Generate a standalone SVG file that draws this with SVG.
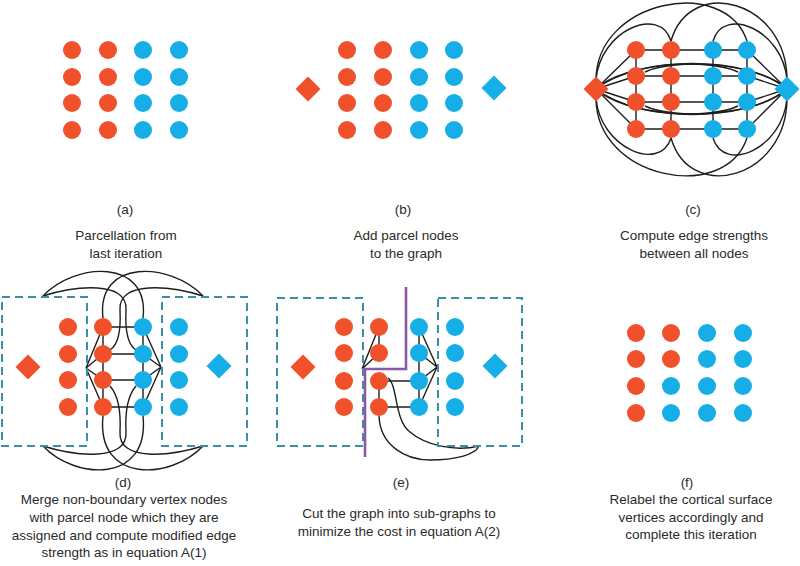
<svg xmlns="http://www.w3.org/2000/svg" xmlns:xlink="http://www.w3.org/1999/xlink" width="800" height="566" viewBox="0 0 800 566">
<style>
.o{fill:#f0502a}
.b{fill:#16aee6}
.e{fill:none;stroke:#1e1e1e;stroke-width:1.4}
.box{fill:none;stroke:#3a8ea8;stroke-width:2;stroke-dasharray:8 5}
.cut{fill:none;stroke:#8b5aa6;stroke-width:2.6}
text{font-family:"Liberation Sans",Arial,sans-serif;font-size:13.5px;fill:#2a2a2a;text-anchor:middle}
</style>
<defs>
<path id="dia" d="M0,-12.5 L12.5,0 L0,12.5 L-12.5,0Z"/>
</defs>
<rect width="800" height="566" fill="#fff"/>

<!-- connectors -->
<g id="connectors">
<g id="conn-c" class="e">
<path d="M636,50H747M636,76H747M636,102H747M636,129H747M636,50V129M671,50V129M713,50V129M747,50V129"/>
<path d="M596,89L636,50M596,89L636,76M596,89L636,102M596,89L636,129"/>
<path d="M787,89L747,50M787,89L747,76M787,89L747,102M787,89L747,129"/>
<path d="M596,80C600,30 660,5 671,41"/>
<path d="M596,80C596,0 725,-25 747,41"/>
<path d="M671,41C690,-25 787,0 787,80"/>
<path d="M713,41C724,5 783,30 787,80"/>
<path d="M596,89C640,55 745,55 787,89"/>
<path d="M596,89C625,62 710,58 738,72"/>
<path d="M787,89C758,62 673,58 645,72"/>
<path d="M596,89C640,123 745,123 787,89"/>
<path d="M596,89C625,116 710,120 738,106"/>
<path d="M787,89C758,116 673,120 645,106"/>
<path d="M596,98C600,148 660,173 671,138"/>
<path d="M596,98C596,179 725,204 747,138"/>
<path d="M671,138C690,204 787,179 787,98"/>
<path d="M713,138C724,174 783,149 787,98"/>
</g>
<g id="conn-d" class="e">
<path d="M103,327H143M103,354H143M103,380H143M103,407H143M103,327V407M143,327V407"/>
<path d="M86,368L103,327M86,368L103,354M86,368L103,380M86,368L103,407"/>
<path d="M161,367L143,327M161,367L143,354M161,367L143,380M161,367L143,407"/>
<path d="M43,296C75,262 150,258 143,318"/>
<path d="M43,296C75,286 128,280 126,310C125,330 128,345 136,350"/>
<path d="M203,296C171,262 96,258 103,318"/>
<path d="M203,296C171,286 118,280 120,310C121,330 118,345 110,350"/>
<path d="M43,446C75,480 150,484 143,416"/>
<path d="M43,446C75,456 128,462 126,432C125,412 128,395 136,386"/>
<path d="M203,446C171,480 96,484 103,416"/>
<path d="M203,446C171,456 118,462 120,432C121,412 118,395 110,386"/>
</g>
<g id="conn-e" class="e">
<path d="M379,327V353M379,381V407M419,327V407M379,381H419M379,407H419"/>
<path d="M362,369L379,327M362,369L379,353"/>
<path d="M437,367L419,327M437,367L419,353M437,367L419,381M437,367L419,407"/>
<path d="M388,378C398,385 394,420 410,432C425,445 455,452 479,446"/>
<path d="M379,416C380,445 405,460 430,460C455,460 475,455 479,446"/>
</g>
</g>

<!-- dashed merge boxes and cut -->
<g id="box-d-left"><rect class="box" x="2" y="297" width="85" height="149"/></g>
<g id="box-d-right"><rect class="box" x="162" y="297" width="85" height="149"/></g>
<g id="box-e-left"><rect class="box" x="277" y="298" width="86" height="148"/></g>
<g id="box-e-right"><rect class="box" x="438" y="298" width="84" height="148"/></g>
<g id="cut-e"><path class="cut" d="M406,287V369H365V457"/></g>

<!-- panel a -->
<g id="panel-a">
<g id="a11"><circle class="o" cx="72" cy="50" r="9"/></g><g id="a12"><circle class="o" cx="108" cy="50" r="9"/></g><g id="a13"><circle class="b" cx="143" cy="50" r="9"/></g><g id="a14"><circle class="b" cx="179" cy="50" r="9"/></g>
<g id="a21"><circle class="o" cx="72" cy="77" r="9"/></g><g id="a22"><circle class="o" cx="108" cy="77" r="9"/></g><g id="a23"><circle class="b" cx="143" cy="77" r="9"/></g><g id="a24"><circle class="b" cx="179" cy="77" r="9"/></g>
<g id="a31"><circle class="o" cx="72" cy="103" r="9"/></g><g id="a32"><circle class="o" cx="108" cy="103" r="9"/></g><g id="a33"><circle class="b" cx="143" cy="103" r="9"/></g><g id="a34"><circle class="b" cx="179" cy="103" r="9"/></g>
<g id="a41"><circle class="o" cx="72" cy="130" r="9"/></g><g id="a42"><circle class="o" cx="108" cy="130" r="9"/></g><g id="a43"><circle class="b" cx="143" cy="130" r="9"/></g><g id="a44"><circle class="b" cx="179" cy="130" r="9"/></g>
</g>

<!-- panel b -->
<g id="panel-b">
<g id="b11"><circle class="o" cx="347" cy="50" r="9"/></g><g id="b12"><circle class="o" cx="383" cy="50" r="9"/></g><g id="b13"><circle class="b" cx="419" cy="50" r="9"/></g><g id="b14"><circle class="b" cx="454" cy="50" r="9"/></g>
<g id="b21"><circle class="o" cx="347" cy="77" r="9"/></g><g id="b22"><circle class="o" cx="383" cy="77" r="9"/></g><g id="b23"><circle class="b" cx="419" cy="77" r="9"/></g><g id="b24"><circle class="b" cx="454" cy="77" r="9"/></g>
<g id="b31"><circle class="o" cx="347" cy="103" r="9"/></g><g id="b32"><circle class="o" cx="383" cy="103" r="9"/></g><g id="b33"><circle class="b" cx="419" cy="103" r="9"/></g><g id="b34"><circle class="b" cx="454" cy="103" r="9"/></g>
<g id="b41"><circle class="o" cx="347" cy="130" r="9"/></g><g id="b42"><circle class="o" cx="383" cy="130" r="9"/></g><g id="b43"><circle class="b" cx="419" cy="130" r="9"/></g><g id="b44"><circle class="b" cx="454" cy="130" r="9"/></g>
<g id="b-pl"><use href="#dia" xlink:href="#dia" class="o" x="308" y="89"/></g>
<g id="b-pr"><use href="#dia" xlink:href="#dia" class="b" x="494" y="88"/></g>
</g>

<!-- panel c -->
<g id="panel-c">
<g id="c11"><circle class="o" cx="636" cy="50" r="9"/></g><g id="c12"><circle class="o" cx="671" cy="50" r="9"/></g><g id="c13"><circle class="b" cx="713" cy="50" r="9"/></g><g id="c14"><circle class="b" cx="747" cy="50" r="9"/></g>
<g id="c21"><circle class="o" cx="636" cy="76" r="9"/></g><g id="c22"><circle class="o" cx="671" cy="76" r="9"/></g><g id="c23"><circle class="b" cx="713" cy="76" r="9"/></g><g id="c24"><circle class="b" cx="747" cy="76" r="9"/></g>
<g id="c31"><circle class="o" cx="636" cy="102" r="9"/></g><g id="c32"><circle class="o" cx="671" cy="102" r="9"/></g><g id="c33"><circle class="b" cx="713" cy="102" r="9"/></g><g id="c34"><circle class="b" cx="747" cy="102" r="9"/></g>
<g id="c41"><circle class="o" cx="636" cy="129" r="9"/></g><g id="c42"><circle class="o" cx="671" cy="129" r="9"/></g><g id="c43"><circle class="b" cx="713" cy="129" r="9"/></g><g id="c44"><circle class="b" cx="747" cy="129" r="9"/></g>
<g id="c-pl"><use href="#dia" xlink:href="#dia" class="o" x="596" y="89"/></g>
<g id="c-pr"><use href="#dia" xlink:href="#dia" class="b" x="787" y="89"/></g>
</g>

<!-- panel d -->
<g id="panel-d">
<g id="d11"><circle class="o" cx="68" cy="327" r="9"/></g><g id="d12"><circle class="o" cx="103" cy="327" r="9"/></g><g id="d13"><circle class="b" cx="143" cy="327" r="9"/></g><g id="d14"><circle class="b" cx="179" cy="327" r="9"/></g>
<g id="d21"><circle class="o" cx="68" cy="354" r="9"/></g><g id="d22"><circle class="o" cx="103" cy="354" r="9"/></g><g id="d23"><circle class="b" cx="143" cy="354" r="9"/></g><g id="d24"><circle class="b" cx="179" cy="354" r="9"/></g>
<g id="d31"><circle class="o" cx="68" cy="380" r="9"/></g><g id="d32"><circle class="o" cx="103" cy="380" r="9"/></g><g id="d33"><circle class="b" cx="143" cy="380" r="9"/></g><g id="d34"><circle class="b" cx="179" cy="380" r="9"/></g>
<g id="d41"><circle class="o" cx="68" cy="407" r="9"/></g><g id="d42"><circle class="o" cx="103" cy="407" r="9"/></g><g id="d43"><circle class="b" cx="143" cy="407" r="9"/></g><g id="d44"><circle class="b" cx="179" cy="407" r="9"/></g>
<g id="d-pl"><use href="#dia" xlink:href="#dia" class="o" x="28" y="367"/></g>
<g id="d-pr"><use href="#dia" xlink:href="#dia" class="b" x="219" y="366"/></g>
</g>

<!-- panel e -->
<g id="panel-e">
<g id="e11"><circle class="o" cx="344" cy="327" r="9"/></g><g id="e12"><circle class="o" cx="379" cy="327" r="9"/></g><g id="e13"><circle class="b" cx="419" cy="327" r="9"/></g><g id="e14"><circle class="b" cx="455" cy="327" r="9"/></g>
<g id="e21"><circle class="o" cx="344" cy="353" r="9"/></g><g id="e22"><circle class="o" cx="379" cy="353" r="9"/></g><g id="e23"><circle class="b" cx="419" cy="353" r="9"/></g><g id="e24"><circle class="b" cx="455" cy="353" r="9"/></g>
<g id="e31"><circle class="o" cx="344" cy="381" r="9"/></g><g id="e32"><circle class="o" cx="379" cy="381" r="9"/></g><g id="e33"><circle class="b" cx="419" cy="381" r="9"/></g><g id="e34"><circle class="b" cx="455" cy="381" r="9"/></g>
<g id="e41"><circle class="o" cx="344" cy="407" r="9"/></g><g id="e42"><circle class="o" cx="379" cy="407" r="9"/></g><g id="e43"><circle class="b" cx="419" cy="407" r="9"/></g><g id="e44"><circle class="b" cx="455" cy="407" r="9"/></g>
<g id="e-pl"><use href="#dia" xlink:href="#dia" class="o" x="303" y="367"/></g>
<g id="e-pr"><use href="#dia" xlink:href="#dia" class="b" x="495" y="366"/></g>
</g>

<!-- panel f -->
<g id="panel-f">
<g id="f11"><circle class="o" cx="636" cy="333" r="9"/></g><g id="f12"><circle class="o" cx="671" cy="333" r="9"/></g><g id="f13"><circle class="b" cx="707" cy="333" r="9"/></g><g id="f14"><circle class="b" cx="743" cy="333" r="9"/></g>
<g id="f21"><circle class="o" cx="636" cy="359" r="9"/></g><g id="f22"><circle class="o" cx="671" cy="359" r="9"/></g><g id="f23"><circle class="b" cx="707" cy="359" r="9"/></g><g id="f24"><circle class="b" cx="743" cy="359" r="9"/></g>
<g id="f31"><circle class="o" cx="636" cy="386" r="9"/></g><g id="f32"><circle class="b" cx="671" cy="386" r="9"/></g><g id="f33"><circle class="b" cx="707" cy="386" r="9"/></g><g id="f34"><circle class="b" cx="743" cy="386" r="9"/></g>
<g id="f41"><circle class="o" cx="636" cy="413" r="9"/></g><g id="f42"><circle class="b" cx="671" cy="413" r="9"/></g><g id="f43"><circle class="b" cx="707" cy="413" r="9"/></g><g id="f44"><circle class="b" cx="743" cy="413" r="9"/></g>
</g>

<!-- captions -->
<g id="captions">
<text x="125" y="214">(a)</text>
<text x="126" y="240">Parcellation from</text>
<text x="126" y="258">last iteration</text>
<text x="403" y="214">(b)</text>
<text x="406" y="240">Add parcel nodes</text>
<text x="406" y="258">to the graph</text>
<text x="693" y="214">(c)</text>
<text x="694" y="240">Compute edge strengths</text>
<text x="694" y="258">between all nodes</text>
<text x="123" y="487">(d)</text>
<text x="124" y="504">Merge non-boundary vertex nodes</text>
<text x="124" y="522">with parcel node which they are</text>
<text x="124" y="540">assigned and compute modified edge</text>
<text x="124" y="557">strength as in equation A(1)</text>
<text x="401" y="487">(e)</text>
<text x="399" y="518">Cut the graph into sub-graphs to</text>
<text x="399" y="536">minimize the cost in equation A(2)</text>
<text x="687" y="487">(f)</text>
<text x="691" y="504">Relabel the cortical surface</text>
<text x="691" y="522">vertices accordingly and</text>
<text x="691" y="539">complete this iteration</text>
</g>
</svg>
